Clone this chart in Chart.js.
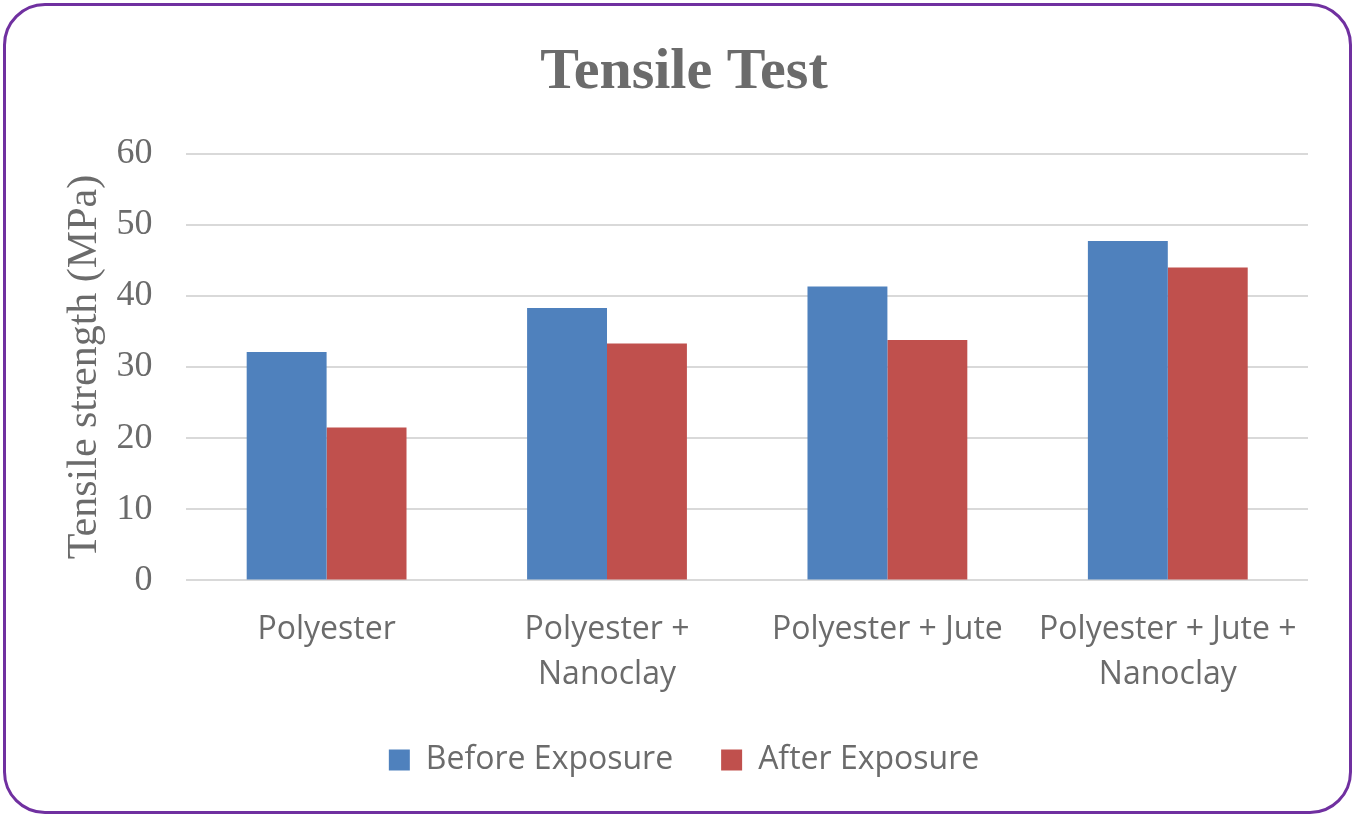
<!DOCTYPE html>
<html>
<head>
<meta charset="utf-8">
<script src="https://cdn.jsdelivr.net/npm/chart.js@4/dist/chart.umd.min.js"></script>
<style>
  html, body { margin: 0; padding: 0; background: #fff; }
  #frame {
    position: absolute; left: 3px; top: 3px;
    width: 1349px; height: 811px;
    border: 3px solid #7030A0; border-radius: 42px;
    box-sizing: border-box; overflow: hidden;
  }
  #wrap { position: absolute; left: 0; top: 0; width: 1343px; height: 805px; }
</style>
</head>
<body>
<div id="frame"><div id="wrap"><canvas id="tensileChart"></canvas></div></div>
<script>
// Datos del gráfico
const categories = [
    "Polyester",
    ["Polyester +", "Nanoclay"],
    "Polyester + Jute",
    ["Polyester + Jute +", "Nanoclay"]
];
const beforeExposure = [32.1, 38.3, 41.3, 47.7];
const afterExposure = [21.5, 33.3, 33.8, 44.0];
const yTicks = [0, 10, 20, 30, 40, 50, 60];

const textGray = "#6b6b6b";
const serif = "'Liberation Serif', 'Times New Roman', serif";
const sans = "'Open Sans', 'Liberation Sans', sans-serif";

const ctx = document.getElementById("tensileChart").getContext("2d");

new Chart(ctx, {
    type: 'bar',
    data: {
        labels: categories,
        datasets: [
            {
                label: "Before Exposure",
                data: beforeExposure,
                backgroundColor: "#4F81BD",
                barPercentage: 1.0,
                categoryPercentage: 0.57
            },
            {
                label: "After Exposure",
                data: afterExposure,
                backgroundColor: "#C0504D",
                barPercentage: 1.0,
                categoryPercentage: 0.57
            }
        ]
    },
    options: {
        responsive: true,
        maintainAspectRatio: false,
        animation: false,
        layout: { padding: { left: 54, right: 41, top: 22, bottom: 25 } },
        plugins: {
            title: {
                display: true,
                text: "Tensile Test",
                color: textGray,
                font: { family: serif, size: 58, weight: 'bold' },
                padding: { top: 10, bottom: 46 }
            },
            legend: {
                position: 'bottom',
                labels: {
                    color: textGray,
                    font: { family: sans, size: 32 },
                    boxWidth: 21,
                    boxHeight: 21,
                    padding: 48
                }
            },
            tooltip: { enabled: false }
        },
        scales: {
            x: {
                grid: { display: false },
                border: { display: false },
                // quitar espacio extra para que la leyenda quede cerca de las etiquetas
                afterFit: axis => { axis.height -= 20; },
                ticks: {
                    color: textGray,
                    font: { family: sans, size: 32, lineHeight: 1.4 },
                    maxRotation: 0,
                    padding: 19
                }
            },
            y: {
                min: 0,
                max: 60,
                afterBuildTicks: axis => { axis.ticks = yTicks.map(v => ({ value: v })); },
                grid: { color: "#D9D9D9", lineWidth: 2, drawTicks: false },
                border: { display: false },
                ticks: {
                    color: textGray,
                    font: { family: serif, size: 36 },
                    padding: 34
                },
                title: {
                    display: true,
                    text: "Tensile strength (MPa)",
                    color: textGray,
                    font: { family: serif, size: 42 },
                    padding: { top: 0, bottom: -28 }
                }
            }
        }
    }
});
</script>
</body>
</html>
